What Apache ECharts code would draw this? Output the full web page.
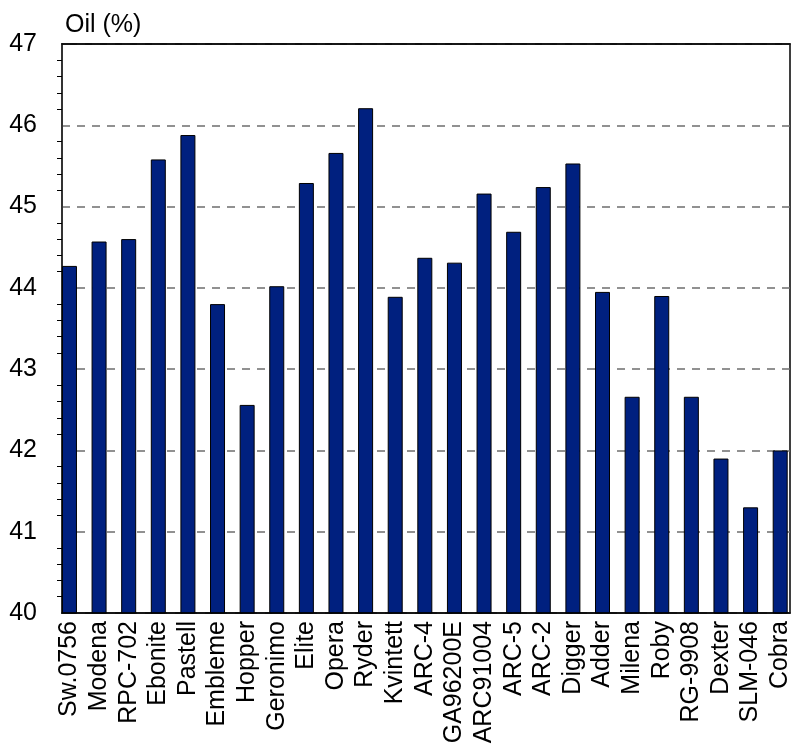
<!DOCTYPE html>
<html>
<head>
<meta charset="utf-8">
<script src="https://cdn.jsdelivr.net/npm/echarts@6/dist/echarts.min.js"></script>
<style>
  html, body { margin: 0; padding: 0; background: #fff; }
  #chart { width: 795px; height: 749px; }
</style>
</head>
<body>
<div id="chart"></div>
<script>
// 品种名称
const varieties = ['Sw.0756', 'Modena', 'RPC-702', 'Ebonite', 'Pastell', 'Embleme', 'Hopper', 'Geronimo',
  'Elite', 'Opera', 'Ryder', 'Kvintett', 'ARC-4', 'GA96200E', 'ARC91004', 'ARC-5', 'ARC-2', 'Digger',
  'Adder', 'Milena', 'Roby', 'RG-9908', 'Dexter', 'SLM-046', 'Cobra']
// 含油量 (%)
const oilValues = [44.27, 44.57, 44.60, 45.58, 45.88, 43.80, 42.56, 44.02,
  45.29, 45.66, 46.21, 43.89, 44.37, 44.31, 45.16, 44.69, 45.24, 45.53,
  43.95, 42.66, 43.90, 42.66, 41.90, 41.30, 42.00]
const yMin = 40
const yMax = 47

const chart = echarts.init(document.getElementById('chart'))

// 边框用的隐藏坐标轴
function frameAxis(position) {
  return {
    gridIndex: 1,
    type: 'value',
    position: position,
    min: 0,
    max: 1,
    z: 5,
    axisLine: { show: true, lineStyle: { color: '#000', width: 1.5 } },
    axisTick: { show: false },
    axisLabel: { show: false },
    splitLine: { show: false }
  }
}

const option = {
  animation: false,
  title: {
    text: 'Oil (%)',
    left: 60,
    top: 8,
    textStyle: { fontFamily: 'Liberation Sans', fontSize: 25, fontWeight: 'normal', color: '#000' }
  },
  grid: [
    // 柱子所在的网格 (柱子在类目中左对齐)
    { left: 54.65, width: 742.5, top: 44, bottom: 136 },
    // 边框和刻度所在的网格
    { left: 62, right: 5, top: 44, bottom: 136, show: true, borderColor: '#000', borderWidth: 1.5, backgroundColor: 'transparent' }
  ],
  xAxis: [
    {
      gridIndex: 0,
      type: 'category',
      data: varieties,
      axisLine: { show: false },
      axisTick: { show: false },
      axisLabel: {
        interval: 0,
        rotate: 90,
        margin: 8,
        fontFamily: 'Liberation Sans',
        fontSize: 25,
        color: '#000'
      }
    },
    frameAxis('bottom'),
    frameAxis('top')
  ],
  yAxis: [
    {
      gridIndex: 0,
      type: 'value',
      min: yMin,
      max: yMax,
      interval: 1,
      axisLine: { show: false },
      axisTick: { show: false },
      axisLabel: { show: false },
      splitLine: { show: false }
    },
    {
      gridIndex: 1,
      type: 'value',
      min: yMin,
      max: yMax,
      interval: 1,
      axisLine: { show: true, lineStyle: { color: '#333', width: 2 } },
      axisTick: { show: false },
      minorTick: { show: true, splitNumber: 5, length: 5, lineStyle: { color: '#000', width: 1 } },
      axisLabel: {
        margin: 25,
        fontFamily: 'Liberation Sans',
        fontSize: 25,
        color: '#000'
      },
      splitLine: {
        show: true,
        lineStyle: { color: '#6e6e6e', width: 1.5, type: [8, 7] }
      }
    }
  ],
  series: [
    {
      type: 'bar',
      xAxisIndex: 0,
      yAxisIndex: 0,
      data: oilValues,
      barWidth: 15,
      itemStyle: {
        color: '#00207f',
        borderColor: '#000',
        borderWidth: 1
      },
      z: 3
    }
  ]
}

chart.setOption(option)
</script>
</body>
</html>
